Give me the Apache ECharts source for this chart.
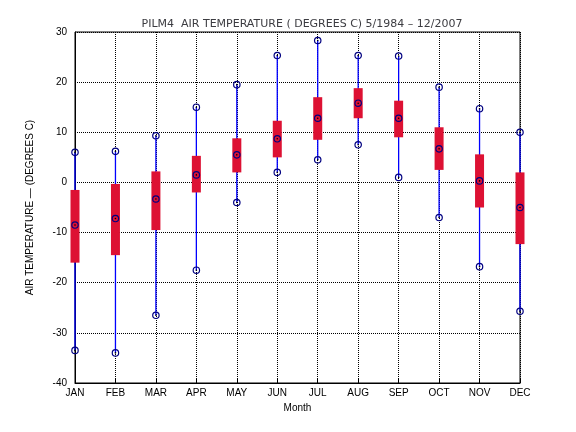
<!DOCTYPE html>
<html><head><meta charset="utf-8">
<script src="https://cdn.jsdelivr.net/npm/echarts@6/dist/echarts.min.js"></script>
</head><body style="margin:0">
<div id="c" style="width:576px;height:432px"></div>
<script>
var months=['JAN','FEB','MAR','APR','MAY','JUN','JUL','AUG','SEP','OCT','NOV','DEC'];
var maxV=[6,6.2,9.3,15,19.5,25.3,28.3,25.3,25.2,19,14.7,10];
var minV=[-33.5,-34,-26.5,-17.5,-4,2,4.5,7.5,1,-7,-16.8,-25.7];
var q3V=[-1.5,-0.3,2.2,5.3,8.8,12.3,17,18.8,16.3,11,5.6,2];
var q1V=[-16,-14.5,-9.5,-2,2,5,8.5,12.8,9,2.5,-5,-12.3];
var medV=[-8.5,-7.2,-3.3,1.5,5.5,8.7,12.8,15.8,12.8,6.7,0.3,-5];
var data=months.map(function(m,i){return [i,minV[i],q1V[i],medV[i],q3V[i],maxV[i]];});
var chart=echarts.init(document.getElementById('c'));
function circ(x,y){return [{type:'circle',shape:{cx:x,cy:y,r:3.2},style:{fill:'none',stroke:'#000080',lineWidth:1.2}},
{type:'circle',shape:{cx:x,cy:y,r:0.8},style:{fill:'#000'}}];}
chart.setOption({
animation:false,
title:{text:'PILM4  AIR TEMPERATURE ( DEGREES C) 5/1984 \u2013 12/2007',left:297,top:14,textAlign:'center',textStyle:{fontSize:11,fontWeight:'normal',fontFamily:'DejaVu Sans'}},
grid:{left:75,right:56,top:32,bottom:49,show:true,borderColor:'#000',borderWidth:1},
xAxis:{type:'category',data:months,boundaryGap:false,name:'Month',nameLocation:'middle',nameGap:19,
nameTextStyle:{fontSize:10,color:'#000'},axisLine:{onZero:false,lineStyle:{color:'#000'}},axisTick:{inside:true,alignWithLabel:true},
axisLabel:{fontSize:10,color:'#000',margin:5},splitLine:{show:true,lineStyle:{type:'dotted',color:'#000'}}},
yAxis:{type:'value',min:-40,max:30,interval:10,name:'AIR TEMPERATURE \u2014 (DEGREES C)',nameLocation:'middle',nameGap:40,
nameTextStyle:{fontSize:10,color:'#000'},axisLine:{show:true,lineStyle:{color:'#000'}},axisTick:{inside:true},
axisLabel:{fontSize:10,color:'#000'},splitLine:{show:true,lineStyle:{type:'dotted',color:'#000'}}},
series:[{type:'custom',z:10,data:data,renderItem:function(p,api){
var i=api.value(0);
var pMin=api.coord([i,api.value(1)]),pQ1=api.coord([i,api.value(2)]),pMed=api.coord([i,api.value(3)]),pQ3=api.coord([i,api.value(4)]),pMax=api.coord([i,api.value(5)]);
var x=pMin[0];
var ch=[{type:'line',shape:{x1:x,y1:pMax[1],x2:x,y2:pMin[1]},style:{stroke:'#0000ff',lineWidth:1.3}},
{type:'rect',shape:{x:x-4.5,y:pQ3[1],width:9,height:pQ1[1]-pQ3[1]},style:{fill:'#dd1133'}}];
ch=ch.concat(circ(x,pMax[1]),circ(x,pMin[1]),circ(x,pMed[1]));
return {type:'group',children:ch};}}]
});
</script></body></html>
